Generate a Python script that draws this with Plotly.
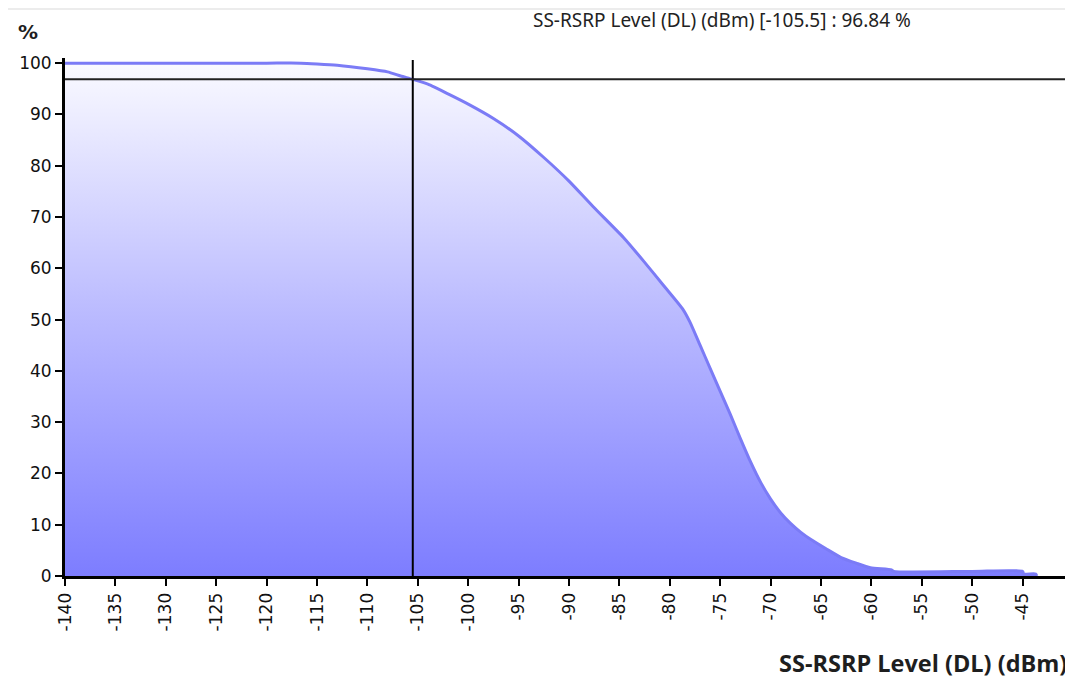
import plotly.graph_objects as go

# ---- data ----
rsrp_dbm = [-140, -130, -120, -116.6, -115, -113, -110, -108, -106.7, -105.5, -104,
            -101.8, -100, -97.5, -95, -92.5, -90, -87.6, -84.6, -82.6,
            -80.6, -78.7, -78, -77, -76, -75, -74, -73, -72, -71, -70, -69, -68, -67, -66,
            -64.5, -63, -61.5, -60.1, -58, -57.8, -50, -45, -44.9, -43.7, -43.6]
cdf_pct = [100, 100, 100, 100, 99.85, 99.6, 98.9, 98.3, 97.5, 96.84, 95.9,
           93.8, 92.0, 89.2, 85.8, 81.6, 77.0, 72.0, 66.0, 61.4,
           56.6, 52.0, 49.5, 45.0, 40.5, 36.0, 31.5, 26.8, 22.3, 18.3, 15.0, 12.3, 10.2,
           8.5, 7.1, 5.3, 3.6, 2.5, 1.6, 1.2, 0.9, 0.9, 0.9, 0.4, 0.4, 0.0]
cursor_x = -105.5
cursor_y = 96.84
x_ticks = list(range(-140, -44, 5))
y_ticks = list(range(0, 101, 10))
x_title = "SS-RSRP Level (DL) (dBm)"

# ---- layout geometry (pixels); page body has an 8px margin ----
OFF = 8
W, H = 1073 - OFF, 683 - OFF
L, R, T, B = 65 - OFF, 5, 58 - OFF, 107
PW, PH = W - L - R, H - T - B

def px_x(p):
    return (p - OFF - L) / PW

def px_y(p):
    return (H - B - (p - OFF)) / PH

fig = go.Figure()
fig.add_trace(go.Scatter(
    x=rsrp_dbm, y=cdf_pct, mode="lines",
    line=dict(color="#7b7bf6", width=3, shape="spline", smoothing=0.6),
    fill="tozeroy",
    fillgradient=dict(type="vertical", start=0, stop=100,
                      colorscale=[[0, "#7d7dff"], [0.5, "#b9b9ff"], [1, "#fafaff"]]),
    hoverinfo="x+y", showlegend=False,
))

# crosshair lines
fig.add_shape(type="line", xref="x", yref="y", x0=cursor_x, x1=cursor_x, y0=0, y1=100.6,
              line=dict(color="black", width=2))
fig.add_shape(type="line", xref="x", yref="y", x0=-140, x1=-40.5,
              y0=cursor_y, y1=cursor_y, line=dict(color="#222", width=2))
# faint top border
fig.add_shape(type="line", xref="paper", yref="paper", x0=px_x(OFF), x1=px_x(1073),
              y0=px_y(OFF + 1), y1=px_y(OFF + 1), line=dict(color="#ececec", width=2))

tick_font = dict(family="DejaVu Sans", size=17, color="#111")
fig.update_xaxes(range=[-140, -40.5], tickvals=x_ticks, ticktext=[str(v) for v in x_ticks],
                 tickangle=-90, showgrid=False, zeroline=False, showline=True,
                 linecolor="black", linewidth=3, ticks="outside", ticklen=7, tickwidth=2,
                 tickcolor="black", tickfont=tick_font)
fig.update_yaxes(range=[0, 101], tickvals=y_ticks, showgrid=False, zeroline=False,
                 showline=True, linecolor="black", linewidth=3, ticks="outside",
                 ticklen=7, tickwidth=2, tickcolor="black", tickfont=tick_font)

fig.add_annotation(x=px_x(16), y=px_y(32), xref="paper", yref="paper", text="<b>%</b>",
                   showarrow=False, xanchor="left", yanchor="middle",
                   font=dict(family="DejaVu Sans", size=20, color="#1e1e1e"))
fig.add_annotation(x=px_x(722), y=px_y(20), xref="paper", yref="paper",
                   text=f"{x_title} [{cursor_x}] : {cursor_y:.2f} %",
                   showarrow=False, xanchor="center", yanchor="middle",
                   font=dict(family="Noto Sans", size=19, color="#222"))
fig.add_annotation(x=px_x(1069), y=px_y(663), xref="paper", yref="paper",
                   text=f"<b>{x_title}</b>", showarrow=False, xanchor="right",
                   yanchor="middle", font=dict(family="Open Sans", size=23.5, color="#1e1e1e"))

fig.update_layout(width=W, height=H, margin=dict(l=L, r=R, t=T, b=B),
                  paper_bgcolor="white", plot_bgcolor="white")
fig.write_html("out.html")
